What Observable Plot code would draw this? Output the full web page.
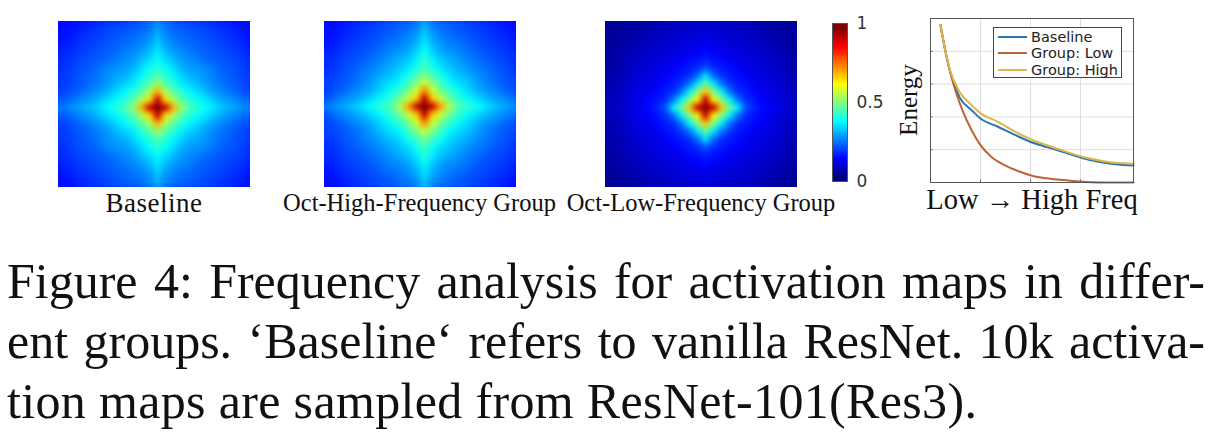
<!DOCTYPE html>
<html><head><meta charset="utf-8">
<script src="https://cdn.jsdelivr.net/npm/d3@7"></script>
<script src="https://cdn.jsdelivr.net/npm/@observablehq/plot@0.6"></script>
<style>
html,body{margin:0;padding:0;background:#fff;}
#fig{position:relative;width:1213px;height:432px;overflow:hidden;}
#fig svg{position:absolute;display:block;overflow:visible;background:transparent;}
.t{position:absolute;white-space:nowrap;font-family:"Liberation Serif",serif;color:#111;line-height:1;}
.lab{font-size:24.5px;transform:translateX(-50%);}
.cap{font-size:50px;left:7px;width:1198px;white-space:normal;word-spacing:-2px;text-align:justify;text-align-last:justify;}
#legend{position:absolute;left:993px;top:27px;width:127px;height:49px;border:1px solid #444;background:#fff;font:14.5px "DejaVu Sans",sans-serif;color:#222;}
#legend div{position:absolute;left:37px;white-space:nowrap;line-height:16px;}
#legend i{position:absolute;left:-33px;top:7px;width:29px;height:2px;}
</style></head><body><div id="fig"></div>
<script>
// Quadrant of each map: rows go away from the centre
// vertically (8 px apart), columns horizontally (8 px apart). Maps are four-fold symmetric.
const baselineQuadrant = [
 [1.0,.92,.70,.52,.45,.41,.38,.35,.32,.30,.28,.26,.24],
 [.92,.66,.54,.46,.41,.38,.35,.32,.29,.27,.25,.23,.21],
 [.70,.54,.46,.41,.37,.34,.31,.28,.26,.24,.22,.20,.19],
 [.52,.46,.41,.36,.33,.31,.28,.26,.24,.22,.21,.19,.18],
 [.45,.41,.37,.33,.30,.29,.27,.25,.23,.22,.20,.19,.18],
 [.41,.38,.34,.30,.28,.27,.26,.24,.22,.21,.20,.18,.17],
 [.38,.34,.31,.28,.26,.25,.23,.22,.21,.20,.19,.175,.165],
 [.35,.31,.28,.26,.25,.23,.22,.21,.20,.19,.18,.165,.155],
 [.33,.28,.26,.24,.23,.22,.21,.20,.19,.18,.17,.155,.145],
 [.30,.26,.24,.23,.22,.21,.20,.19,.18,.17,.16,.145,.14],
 [.28,.24,.22,.21,.20,.195,.19,.18,.17,.16,.15,.14,.135],
 [.25,.22,.20,.19,.18,.175,.17,.16,.15,.145,.14,.135,.13]
];
const highQuadrant = [
 [1.0,.93,.72,.55,.47,.43,.40,.37,.34,.31,.29,.27,.25],
 [.93,.68,.57,.49,.43,.39,.36,.33,.30,.28,.26,.24,.21],
 [.74,.58,.49,.43,.39,.35,.32,.29,.27,.25,.23,.21,.19],
 [.57,.50,.44,.38,.35,.33,.30,.27,.25,.23,.21,.20,.19],
 [.49,.44,.39,.35,.32,.30,.28,.26,.24,.22,.21,.19,.18],
 [.44,.39,.35,.32,.30,.28,.26,.24,.23,.21,.20,.18,.17],
 [.41,.36,.32,.30,.28,.26,.24,.23,.21,.20,.19,.175,.165],
 [.38,.33,.29,.27,.26,.24,.23,.21,.20,.19,.18,.165,.155],
 [.35,.30,.27,.25,.24,.23,.21,.20,.19,.18,.17,.155,.145],
 [.33,.28,.25,.24,.22,.21,.20,.19,.18,.17,.16,.145,.14],
 [.30,.25,.23,.22,.21,.20,.19,.18,.17,.16,.15,.14,.135],
 [.27,.23,.21,.20,.19,.18,.17,.165,.155,.15,.14,.135,.13]
];
const lowQuadrant = [
 [1.0,.92,.68,.48,.36,.21,.16,.135,.115,.10,.085,.07,.06],
 [.92,.64,.50,.36,.24,.17,.145,.125,.105,.095,.08,.065,.055],
 [.68,.50,.36,.24,.17,.15,.13,.115,.10,.09,.075,.06,.05],
 [.46,.35,.24,.18,.15,.135,.115,.10,.095,.085,.07,.055,.045],
 [.34,.23,.17,.15,.135,.12,.105,.095,.09,.08,.065,.05,.04],
 [.20,.165,.15,.135,.12,.11,.095,.09,.08,.07,.06,.045,.035],
 [.155,.14,.13,.115,.105,.095,.09,.08,.075,.065,.055,.04,.03],
 [.13,.12,.11,.10,.095,.085,.08,.075,.065,.055,.05,.035,.03],
 [.11,.10,.095,.09,.085,.08,.075,.065,.055,.05,.04,.03,.025],
 [.095,.09,.085,.08,.075,.07,.065,.055,.05,.04,.035,.03,.025],
 [.08,.075,.07,.07,.065,.06,.055,.05,.04,.035,.03,.025,.02],
 [.07,.065,.06,.06,.055,.05,.045,.04,.035,.03,.025,.02,.02]
];
const colorbarValues = [1,.9375,.875,.8125,.75,.6875,.625,.5625,.5,.4375,.375,.3125,.25,.1875,.125,.0625,0];
const colorbarTicks = [0,.5,1];

const freqBaseline = [[.20,4.80],[.28,4.14],[.40,3.33],[.58,2.60],[.82,2.21],[1.0,1.95],[1.35,1.70],[1.69,1.45],[2.05,1.21],[2.42,1.04],[2.69,.91],[3.05,.74],[3.36,.63],[3.69,.56],[4.06,.52]];
const freqLow = [[.20,4.80],[.28,4.14],[.40,3.33],[.515,2.72],[.65,2.16],[.82,1.60],[1.0,1.14],[1.22,.78],[1.48,.53],[1.75,.35],[2.05,.20],[2.42,.11],[2.76,.06],[3.05,.02],[3.36,0],[4.06,0]];
const freqHigh = [[.20,4.80],[.28,4.14],[.40,3.38],[.58,2.77],[.82,2.36],[1.0,2.11],[1.35,1.85],[1.69,1.55],[2.05,1.29],[2.42,1.09],[2.69,.95],[3.05,.78],[3.36,.68],[3.69,.60],[4.06,.57]];
const seriesNames = ["Baseline","Group: Low","Group: High"];
const seriesColors = ["#2b75ad","#bf6238","#dcb648"];
const gridXTicks = [1,2,3];
const gridYTicks = [1,2,3,4];

const jet = {type:"linear",domain:[0,.125,.375,.625,.875,1],range:["#00007f","#0000ff","#00ffff","#ffff00","#ff0000","#7f0000"],clamp:true};
const fig = document.getElementById("fig");
function place(svg,left,top){svg.style.left=left+"px";svg.style.top=top+"px";fig.appendChild(svg);}
function text(cls,str,left,top,extra){const d=document.createElement("div");d.className="t "+cls;d.textContent=str;d.style.left=left+"px";d.style.top=top+"px";if(extra)Object.assign(d.style,extra);fig.appendChild(d);return d;}

// Expand a quadrant to the full grid around the centre cell.
function fullGrid(q){
  const out=[];
  for(let r=-11;r<=11;r++)for(let c=-13;c<=12;c++)out.push(q[Math.abs(r)][Math.min(Math.abs(c),12)]);
  return out;
}
function heatmap(q,left,top,cx,cy){
  const w=192,h=166;
  const svg=Plot.plot({width:w,height:h,margin:0,
    x:{domain:[0,w],axis:null},y:{domain:[h,0],axis:null},color:jet,
    marks:[Plot.raster(fullGrid(q),{width:26,height:23,x1:cx-108,x2:cx+100,y1:cy-92,y2:cy+92,clip:true,imageRendering:"auto"})]
  });
  svg.querySelectorAll("image").forEach(i=>{i.style.filter="blur(1.6px)";});
  place(svg,left,top);
}
heatmap(baselineQuadrant,58,21,98.7,85.7);
heatmap(highQuadrant,324,21,99.7,84.7);
heatmap(lowQuadrant,605,21,100,85.7);

// colour bar
place(Plot.plot({width:40,height:158,marginLeft:0,marginRight:25,marginTop:0,marginBottom:0,
  x:{domain:[0,1],axis:null},y:{domain:[0,1],axis:null},color:jet,
  marks:[
    Plot.raster(colorbarValues,{width:1,height:17,x1:0,x2:1,y1:1,y2:0,imageRendering:"auto"}),
    Plot.frame({stroke:"#555",strokeWidth:1}),
    Plot.axisY(colorbarTicks,{anchor:"right",tickSize:0,tickPadding:9,fontSize:17,fontFamily:"DejaVu Sans",fill:"#333",tickFormat:d=>String(d),label:null})
  ]}),832,23);

// frequency curves
const tagged=(rows,name)=>rows.map(([x,y])=>({x,y,name}));
const curves=[...tagged(freqBaseline,seriesNames[0]),...tagged(freqLow,seriesNames[1]),...tagged(freqHigh,seriesNames[2])];
place(Plot.plot({width:203,height:164,margin:0,
  x:{domain:[0,4.06],axis:null},y:{domain:[0,5],axis:null},
  color:{domain:seriesNames,range:seriesColors},
  marks:[
    Plot.ruleX(gridXTicks,{stroke:"#dedede"}),
    Plot.ruleY(gridYTicks,{stroke:"#dedede"}),
    Plot.ruleX(gridXTicks,{y1:0,y2:.08,stroke:"#666"}),
    Plot.ruleY(gridYTicks,{x1:0,x2:.05,stroke:"#666"}),
    Plot.line(curves,{x:"x",y:"y",z:"name",stroke:"name",strokeWidth:2,curve:"monotone-x"}),
    Plot.frame({stroke:"#555",strokeWidth:1})
  ]}),930,18);

// legend
const lg=document.createElement("div");lg.id="legend";
seriesNames.forEach((n,i)=>{const d=document.createElement("div");d.style.top=(i*16.5+0.5)+"px";d.textContent=n;
  const sw=document.createElement("i");sw.style.background=seriesColors[i];d.appendChild(sw);lg.appendChild(d);});
fig.appendChild(lg);

// text
text("lab","Baseline",154,190,{fontSize:"27px",letterSpacing:".5px"});
text("lab","Oct-High-Frequency Group",419.5,191);
text("lab","Oct-Low-Frequency Group",701,191);
text("lab","Low → High Freq",1032,186,{fontSize:"28.5px"});
text("","Energy",908,100,{fontSize:"25px",transform:"translate(-50%,-50%) rotate(-90deg)"});
text("cap","Figure 4: Frequency analysis for activation maps in differ-",7,256);
text("cap","ent groups. ‘Baseline‘ refers to vanilla ResNet. 10k activa-",7,316);
text("cap","tion maps are sampled from ResNet-101(Res3).",7,376,{textAlign:"left",textAlignLast:"left",wordSpacing:"0",letterSpacing:".34px"});
</script></body></html>
